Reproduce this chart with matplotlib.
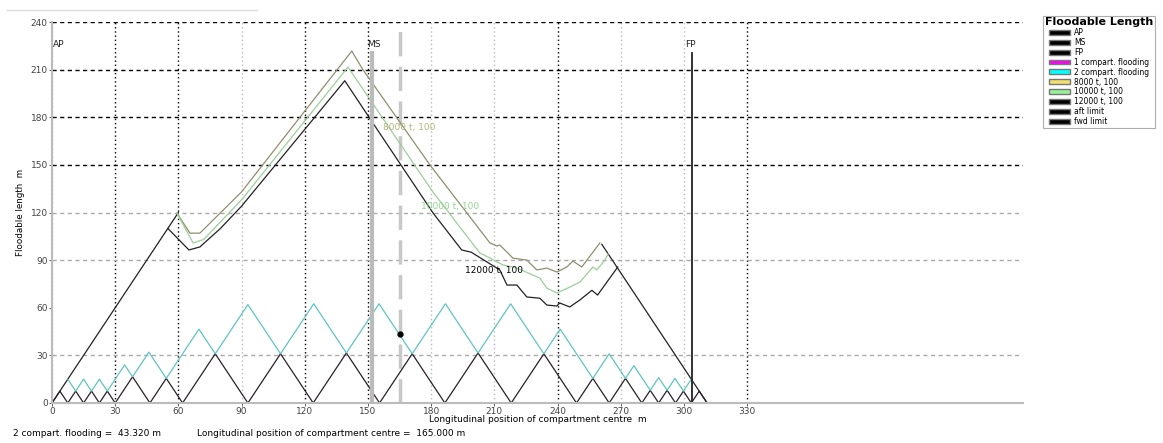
import numpy as np
import matplotlib.pyplot as plt
from matplotlib.patches import Patch
from matplotlib.lines import Line2D

# bulkhead positions (m from AP)
bulkheads = [0, 7.5, 15, 22.5, 30, 46.5, 62, 93, 124, 155.5, 186.5, 218, 249,
             264.5, 280, 288, 296, 303.5, 311]

# floodable length curves, permeability 100
x_8000 = [59.3, 65.5, 70.2, 90, 142.3, 147.6, 179.4, 207.9, 211.2, 212.6, 218.8,
          225.4, 230.2, 234.9, 239.7, 244.4, 247.3, 251.5, 260.1]
y_8000 = [119.6, 107, 107, 133, 221.7, 210, 150, 100.8, 98.9, 99.5, 91.3,
          90, 83.8, 85, 82.5, 85.7, 89.4, 85.7, 100.8]
x_10000 = [59.3, 67, 72, 90, 140.5, 180.8, 203.1, 207, 214, 220.7, 231.6,
           234.9, 239.7, 245.8, 250.6, 256.8, 258.6, 262.5, 264]
y_10000 = [119.6, 100.8, 103, 128, 211.6, 133, 94.5, 92, 87, 85, 78.7,
           72.4, 69.3, 73, 76.2, 85.7, 83.8, 90, 94]
x_12000 = [55, 65, 70.2, 80, 90, 139, 150, 181, 194.5, 199, 212.6, 216, 220.7,
           225.4, 231.6, 234.9, 239.7, 241, 245.8, 250.6, 256.3, 259, 268.6]
y_12000 = [110, 96.4, 98.3, 110, 124, 203, 181, 119.5, 96.4, 95, 83.8, 74.3, 74.3,
           66.8, 66, 61.7, 61.1, 63, 60.5, 64.9, 71, 68, 85.7]

# limit lines (aft / fwd)
x_aft = [0, 60]
y_aft = [0, 120]
x_fwd = [261, 311]
y_fwd = [100, 0]

ap_pos = 0
ms_pos = 151.8
fp_pos = 303.6
centre_pos = 165.0
flood_2comp = 43.32

x_ticks = [0, 30, 60, 90, 120, 150, 180, 210, 240, 270, 300, 330]
y_ticks = [0, 30, 60, 90, 120, 150, 180, 210, 240]

# 1 and 2 compartment flooding zigzags
b = np.array(bulkheads)
x1, y1 = [], []
for i in range(len(b) - 1):
    x1 += [b[i], (b[i] + b[i + 1]) / 2]
    y1 += [0, b[i + 1] - b[i]]
x1.append(b[-1]); y1.append(0)

x2, y2 = [], []
for i in range(len(b) - 2):
    x2.append((b[i] + b[i + 2]) / 2)
    y2.append(b[i + 2] - b[i])
    if i < len(b) - 3:
        x2.append((b[i + 1] + b[i + 2]) / 2)
        y2.append(b[i + 2] - b[i + 1])

fig = plt.figure(figsize=(11.63, 4.43), dpi=100)
ax = fig.add_axes([0.0447, 0.0903, 0.835, 0.86])
ax.set_xlim(0, 461)
ax.set_ylim(0, 240)

# grid
for gx in x_ticks:
    dark = gx in (30, 60, 120, 150, 240, 330)
    ax.axvline(gx, color='black' if dark else '#bbbbbb', ls=(0, (1, 2)), lw=1.0, zorder=0)
for gy in y_ticks[1:]:
    if gy == 60:
        continue
    dark = gy >= 150
    ax.axhline(gy, color='black' if dark else '#aaaaaa', ls=(0, (3, 2.5)), lw=1.0, zorder=0)

for s in ['top', 'right']:
    ax.spines[s].set_visible(False)
for s in ['left', 'bottom']:
    ax.spines[s].set_color('#bbbbbb')
    ax.spines[s].set_linewidth(1.5)

ax.set_xticks(x_ticks)
ax.set_yticks(y_ticks)
ax.tick_params(labelsize=6.5, colors='#444444', length=2, width=0.6, pad=1)

# envelope lines
ax.plot(x_aft, y_aft, color='#222222', lw=0.9)
ax.plot(x_fwd, y_fwd, color='#222222', lw=0.9)

ax.plot(x1, y1, color='#2a1f2a', lw=0.9)
ax.plot(x2, y2, color='#5fc4c4', lw=0.9)

ax.plot(x_8000, y_8000, color='#8f8f70', lw=0.9)
ax.plot(x_10000, y_10000, color='#9ccf98', lw=0.9)
ax.plot(x_12000, y_12000, color='#222222', lw=0.9)

ax.text(157, 172, '8000 t, 100', color='#b5b57a', fontsize=6.5)
ax.text(175, 122, '10000 t, 100', color='#8fd68f', fontsize=6.5)
ax.text(196, 82, '12000 t, 100', color='black', fontsize=6.5)

# AP / MS / FP markers
ax.plot([ms_pos, ms_pos], [0, 220.5], color='#bbbbbb', lw=3)
ax.plot([fp_pos, fp_pos], [0, 220.5], color='#222222', lw=1.3)
ax.text(ap_pos + 0.5, 224, 'AP', fontsize=6.5, color='#222222')
ax.text(ms_pos - 2, 224, 'MS', fontsize=6.5, color='#222222')
ax.text(fp_pos - 3, 224, 'FP', fontsize=6.5, color='#222222')

ax.axvline(centre_pos, color='#c8c8c8', lw=2.5, ls=(0, (7, 3)), zorder=1)
ax.plot([centre_pos], [flood_2comp], 'o', color='black', ms=3.5)

ax.set_xlabel('Longitudinal position of compartment centre  m', fontsize=6.5, labelpad=-1)
ax.set_ylabel('Floodable length  m', fontsize=6.3, labelpad=4)

fig.text(0.011, 0.015, '2 compart. flooding =  %.3f m' % flood_2comp, fontsize=6.5)
fig.text(0.169, 0.015, 'Longitudinal position of compartment centre =  %.3f m' % centre_pos,
         fontsize=6.5)

# UI strip at top left
fig.add_artist(Line2D([0.006, 0.221], [0.977, 0.977], color='#dddddd', lw=1))

legend_labels = ['AP', 'MS', 'FP', '1 compart. flooding', '2 compart. flooding',
                 '8000 t, 100', '10000 t, 100', '12000 t, 100', 'aft limit', 'fwd limit']
legend_colors = ['black', 'black', 'black', '#ff00ff', '#00ffff', '#f0e070',
                 '#98f098', 'black', 'black', 'black']
handles = [Patch(facecolor=c, edgecolor='#777777', label=l)
           for l, c in zip(legend_labels, legend_colors)]
leg = fig.legend(handles=handles, loc='upper left', bbox_to_anchor=(0.897, 0.965),
                 title='Floodable Length', fontsize=5.5, frameon=True, fancybox=False,
                 handlelength=2.8, handleheight=0.6, labelspacing=0.12,
                 handletextpad=0.5, borderpad=0.2, borderaxespad=0)
leg.get_title().set_fontsize(8)
leg.get_title().set_fontweight('bold')
leg.get_frame().set_edgecolor('#999999')
leg.get_frame().set_linewidth(0.8)

fig.savefig('out.png', dpi=100)
